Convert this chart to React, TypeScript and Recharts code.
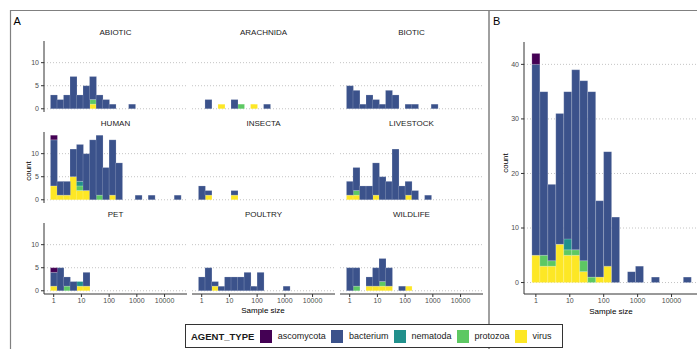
import { BarChart, Bar, XAxis, YAxis, CartesianGrid } from 'recharts';

// agent types, bottom of stack first (ggplot stacks the first level on top)
const STACK_ORDER = ['virus', 'protozoa', 'nematoda', 'bacterium', 'ascomycota'];
const LEGEND_ORDER = ['ascomycota', 'bacterium', 'nematoda', 'protozoa', 'virus'];
const AGENT_COLORS: Record<string, string> = {
  ascomycota: '#440154',
  bacterium: '#3B528B',
  nematoda: '#21908C',
  protozoa: '#5DC863',
  virus: '#FDE725',
};

// histogram bin centres, log10(sample size)
const BIN_CENTERS = [
  0, 0.235, 0.47, 0.705, 0.94, 1.175, 1.41, 1.645, 1.88, 2.115,
  2.35, 2.585, 2.82, 3.055, 3.29, 3.525, 3.76, 3.995, 4.23, 4.465,
];
const X_TICKS = [0, 1, 2, 3, 4];
const X_DOMAIN = [-0.35, 4.81];
const FACET_Y_TICKS = [0, 5, 10];
const FACET_Y_DOMAIN = [-0.7, 14.7];
const TOTAL_Y_TICKS = [0, 10, 20, 30, 40];
const TOTAL_Y_DOMAIN = [-2.1, 44.1];

// counts per bin, panel A facets
const ABIOTIC_BACTERIUM = [3, 2, 3, 7, 3, 5, 5, 3, 2, 1, 0, 0, 1, 0, 0, 0, 0, 0, 0, 0];
const ABIOTIC_PROTOZOA = [0, 0, 0, 0, 0, 0, 1, 0, 0, 0, 0, 0, 0, 0, 0, 0, 0, 0, 0, 0];
const ABIOTIC_VIRUS = [0, 0, 0, 0, 0, 0, 1, 0, 0, 0, 0, 0, 0, 0, 0, 0, 0, 0, 0, 0];

const ARACHNIDA_BACTERIUM = [0, 2, 0, 0, 0, 2, 0, 0, 0, 0, 1, 0, 0, 0, 0, 0, 0, 0, 0, 0];
const ARACHNIDA_PROTOZOA = [0, 0, 0, 0, 0, 0, 1, 0, 0, 0, 0, 0, 0, 0, 0, 0, 0, 0, 0, 0];
const ARACHNIDA_VIRUS = [0, 0, 0, 1, 0, 0, 0, 0, 1, 0, 0, 0, 0, 0, 0, 0, 0, 0, 0, 0];

const BIOTIC_BACTERIUM = [5, 4, 1, 3, 2, 1, 4, 3, 0, 1, 1, 0, 0, 1, 0, 0, 0, 0, 0, 0];

const HUMAN_ASCOMYCOTA = [1, 0, 0, 0, 0, 0, 0, 0, 0, 0, 0, 0, 0, 0, 0, 0, 0, 0, 0, 0];
const HUMAN_BACTERIUM = [10, 3, 3, 6, 8, 8, 13, 13, 7, 12, 8, 0, 0, 1, 0, 1, 0, 0, 0, 1];
const HUMAN_NEMATODA = [0, 0, 0, 0, 1, 0, 0, 0, 0, 0, 0, 0, 0, 0, 0, 0, 0, 0, 0, 0];
const HUMAN_PROTOZOA = [0, 0, 0, 0, 1, 0, 0, 1, 0, 0, 0, 0, 0, 0, 0, 0, 0, 0, 0, 0];
const HUMAN_VIRUS = [3, 1, 1, 5, 2, 2, 0, 0, 0, 1, 0, 0, 0, 0, 0, 0, 0, 0, 0, 0];

const INSECTA_BACTERIUM = [3, 1, 0, 0, 0, 1, 0, 0, 0, 0, 0, 0, 0, 0, 0, 0, 0, 0, 0, 0];
const INSECTA_VIRUS = [0, 1, 0, 0, 0, 1, 0, 0, 0, 0, 0, 0, 0, 0, 0, 0, 0, 0, 0, 0];

const LIVESTOCK_BACTERIUM = [3, 5, 3, 3, 7, 5, 4, 11, 3, 3, 2, 0, 1, 0, 0, 0, 0, 0, 0, 0];
const LIVESTOCK_PROTOZOA = [0, 1, 0, 0, 0, 0, 0, 0, 0, 0, 0, 0, 0, 0, 0, 0, 0, 0, 0, 0];
const LIVESTOCK_VIRUS = [1, 1, 0, 0, 1, 0, 0, 0, 0, 1, 0, 0, 0, 0, 0, 0, 0, 0, 0, 0];

const PET_ASCOMYCOTA = [1, 0, 0, 0, 0, 0, 0, 0, 0, 0, 0, 0, 0, 0, 0, 0, 0, 0, 0, 0];
const PET_BACTERIUM = [3, 5, 2, 2, 0, 3, 0, 0, 0, 0, 0, 0, 0, 0, 0, 0, 0, 0, 0, 0];
const PET_NEMATODA = [0, 0, 0, 0, 1, 0, 0, 0, 0, 0, 0, 0, 0, 0, 0, 0, 0, 0, 0, 0];
const PET_PROTOZOA = [0, 0, 1, 0, 0, 0, 0, 0, 0, 0, 0, 0, 0, 0, 0, 0, 0, 0, 0, 0];
const PET_VIRUS = [1, 0, 0, 0, 1, 1, 0, 0, 0, 0, 0, 0, 0, 0, 0, 0, 0, 0, 0, 0];

const POULTRY_BACTERIUM = [3, 5, 1, 1, 3, 3, 3, 4, 1, 4, 0, 0, 0, 1, 0, 0, 0, 0, 0, 0];
const POULTRY_VIRUS = [0, 0, 1, 0, 0, 0, 0, 0, 0, 0, 0, 0, 0, 0, 0, 0, 0, 0, 0, 0];

const WILDLIFE_BACTERIUM = [5, 4, 0, 2, 4, 5, 4, 0, 1, 0, 0, 0, 0, 0, 0, 0, 0, 0, 0, 0];
const WILDLIFE_PROTOZOA = [0, 1, 0, 0, 0, 1, 0, 0, 0, 0, 0, 0, 0, 0, 0, 0, 0, 0, 0, 0];
const WILDLIFE_VIRUS = [0, 0, 0, 1, 1, 1, 1, 0, 0, 1, 0, 0, 0, 0, 0, 0, 0, 0, 0, 0];

// panel B, all hosts together
const TOTAL_ASCOMYCOTA = [2, 0, 0, 0, 0, 0, 0, 0, 0, 0, 0, 0, 0, 0, 0, 0, 0, 0, 0, 0];
const TOTAL_BACTERIUM = [35, 30, 14, 24, 27, 33, 33, 34, 14, 21, 12, 0, 2, 3, 0, 1, 0, 0, 0, 1];
const TOTAL_NEMATODA = [0, 0, 0, 0, 2, 0, 0, 0, 0, 0, 0, 0, 0, 0, 0, 0, 0, 0, 0, 0];
const TOTAL_PROTOZOA = [0, 2, 1, 0, 1, 1, 2, 1, 0, 0, 0, 0, 0, 0, 0, 0, 0, 0, 0, 0];
const TOTAL_VIRUS = [5, 3, 3, 7, 5, 5, 2, 0, 1, 3, 0, 0, 0, 0, 0, 0, 0, 0, 0, 0];

type Series = Partial<Record<string, number[]>>;

const FACETS: { name: string; series: Series }[] = [
  { name: 'ABIOTIC', series: { bacterium: ABIOTIC_BACTERIUM, protozoa: ABIOTIC_PROTOZOA, virus: ABIOTIC_VIRUS } },
  { name: 'ARACHNIDA', series: { bacterium: ARACHNIDA_BACTERIUM, protozoa: ARACHNIDA_PROTOZOA, virus: ARACHNIDA_VIRUS } },
  { name: 'BIOTIC', series: { bacterium: BIOTIC_BACTERIUM } },
  {
    name: 'HUMAN',
    series: {
      ascomycota: HUMAN_ASCOMYCOTA, bacterium: HUMAN_BACTERIUM, nematoda: HUMAN_NEMATODA,
      protozoa: HUMAN_PROTOZOA, virus: HUMAN_VIRUS,
    },
  },
  { name: 'INSECTA', series: { bacterium: INSECTA_BACTERIUM, virus: INSECTA_VIRUS } },
  { name: 'LIVESTOCK', series: { bacterium: LIVESTOCK_BACTERIUM, protozoa: LIVESTOCK_PROTOZOA, virus: LIVESTOCK_VIRUS } },
  {
    name: 'PET',
    series: {
      ascomycota: PET_ASCOMYCOTA, bacterium: PET_BACTERIUM, nematoda: PET_NEMATODA,
      protozoa: PET_PROTOZOA, virus: PET_VIRUS,
    },
  },
  { name: 'POULTRY', series: { bacterium: POULTRY_BACTERIUM, virus: POULTRY_VIRUS } },
  { name: 'WILDLIFE', series: { bacterium: WILDLIFE_BACTERIUM, protozoa: WILDLIFE_PROTOZOA, virus: WILDLIFE_VIRUS } },
];

const TOTAL_SERIES: Series = {
  ascomycota: TOTAL_ASCOMYCOTA, bacterium: TOTAL_BACTERIUM, nematoda: TOTAL_NEMATODA,
  protozoa: TOTAL_PROTOZOA, virus: TOTAL_VIRUS,
};

function toRows(series: Series) {
  return BIN_CENTERS.map((x, i) => {
    const row: Record<string, number> = { x };
    for (const t of STACK_ORDER) row[t] = series[t]?.[i] ?? 0;
    return row;
  });
}

// layout (px)
const FONT = '"Liberation Sans", Arial, Helvetica, sans-serif';
const COL_LEFT = [44, 192, 340];
const ROW_TOP = [41, 132, 223];
const PLOT_W = 143;
const PLOT_H = 71;
const TEXT_GREY = '#4d4d4d';
const AXIS_COLOR = '#333333';
const GRID_COLOR = '#c4c4c4';

const fmtSize = (v: number) => String(Math.round(Math.pow(10, v)));

function stackBars() {
  return STACK_ORDER.map(t => (
    <Bar
      key={t}
      dataKey={t}
      stackId="agent"
      fill={AGENT_COLORS[t]}
      stroke="rgba(255,255,255,0.35)"
      strokeWidth={0.5}
      isAnimationActive={false}
    />
  ));
}

function Facet({ name, series, idx }: { name: string; series: Series; idx: number }) {
  const col = idx % 3;
  const row = Math.floor(idx / 3);
  const showY = col === 0;
  const showX = row === 2;
  const yW = showY ? 22 : 0;
  const xH = showX ? 14 : 0;
  const data = toRows(series);

  return (
    <div style={{ position: 'absolute', left: COL_LEFT[col] - yW, top: ROW_TOP[row] }}>
      <BarChart
        width={PLOT_W + yW}
        height={PLOT_H + xH}
        data={data}
        margin={{ top: 0, right: 0, bottom: 0, left: 0 }}
        barCategoryGap={0}
        barGap={0}
      >
        <CartesianGrid
          vertical={false}
          horizontalValues={FACET_Y_TICKS}
          stroke={GRID_COLOR}
          strokeDasharray="1 2"
        />
        <XAxis
          type="number"
          dataKey="x"
          domain={X_DOMAIN}
          ticks={X_TICKS}
          interval={0}
          allowDataOverflow
          hide={!showX}
          height={xH}
          tickFormatter={fmtSize}
          tick={{ fontSize: 7, fill: TEXT_GREY }}
          tickSize={3}
          tickMargin={1}
          stroke={AXIS_COLOR}
        />
        <YAxis
          type="number"
          domain={FACET_Y_DOMAIN}
          ticks={FACET_Y_TICKS}
          interval={0}
          allowDataOverflow
          hide={!showY}
          width={yW}
          tick={{ fontSize: 7, fill: TEXT_GREY }}
          tickSize={3}
          tickMargin={2}
          stroke={AXIS_COLOR}
        />
        {stackBars()}
      </BarChart>
      <div
        style={{
          position: 'absolute',
          left: yW,
          width: PLOT_W,
          top: -13,
          textAlign: 'center',
          fontSize: 8,
          color: '#1a1a1a',
          lineHeight: '10px',
        }}
      >
        {name}
      </div>
    </div>
  );
}

function TotalChart() {
  const data = toRows(TOTAL_SERIES);
  return (
    <div style={{ position: 'absolute', left: 524 - 22, top: 42 }}>
      <BarChart
        width={175 + 22}
        height={252 + 14}
        data={data}
        margin={{ top: 0, right: 0, bottom: 0, left: 0 }}
        barCategoryGap={0}
        barGap={0}
      >
        <CartesianGrid
          vertical={false}
          horizontalValues={TOTAL_Y_TICKS}
          stroke={GRID_COLOR}
          strokeDasharray="1 2"
        />
        <XAxis
          type="number"
          dataKey="x"
          domain={X_DOMAIN}
          ticks={X_TICKS}
          interval={0}
          allowDataOverflow
          height={14}
          tickFormatter={fmtSize}
          tick={{ fontSize: 7, fill: TEXT_GREY }}
          tickSize={3}
          tickMargin={1}
          stroke={AXIS_COLOR}
        />
        <YAxis
          type="number"
          domain={TOTAL_Y_DOMAIN}
          ticks={TOTAL_Y_TICKS}
          interval={0}
          allowDataOverflow
          width={22}
          tick={{ fontSize: 7, fill: TEXT_GREY }}
          tickSize={3}
          tickMargin={2}
          stroke={AXIS_COLOR}
        />
        {stackBars()}
      </BarChart>
    </div>
  );
}

function Legend() {
  return (
    <div
      style={{
        position: 'absolute',
        left: 185,
        top: 324,
        width: 371,
        height: 22,
        border: '1px solid #333',
        background: '#fff',
        display: 'flex',
        alignItems: 'center',
        paddingLeft: 5,
        boxSizing: 'content-box',
        fontSize: 9,
        color: '#1a1a1a',
      }}
    >
      <span style={{ fontWeight: 'bold', fontSize: 9.5, marginRight: 6 }}>AGENT_TYPE</span>
      {LEGEND_ORDER.map(t => (
        <span key={t} style={{ display: 'flex', alignItems: 'center', marginRight: 5.5 }}>
          <span style={{ width: 12, height: 13, background: AGENT_COLORS[t], marginRight: 5.5 }} />
          <span>{t}</span>
        </span>
      ))}
    </div>
  );
}

export default function App() {
  return (
    <div
      style={{
        position: 'absolute',
        left: 0,
        top: 0,
        width: 697,
        height: 349,
        overflow: 'hidden',
        background: '#fff',
        fontFamily: FONT,
      }}
    >
      <svg width={697} height={349} style={{ position: 'absolute', left: 0, top: 0 }}>
        <line x1={10} y1={10.5} x2={697} y2={10.5} stroke="#808080" strokeWidth={1.2} />
        <line x1={10.5} y1={10} x2={10.5} y2={349} stroke="#808080" strokeWidth={1.2} />
        <line x1={489} y1={10} x2={489} y2={349} stroke="#808080" strokeWidth={1.5} />
        <text x={13.5} y={25} fontSize={11} fill="#000">A</text>
        <text x={493} y={25} fontSize={11} fill="#000">B</text>
        <text x={263} y={313} fontSize={8} textAnchor="middle" fill="#000">Sample size</text>
        <text x={611} y={313.5} fontSize={8} textAnchor="middle" fill="#000">Sample size</text>
        <text transform="translate(31,171) rotate(-90)" fontSize={8} textAnchor="middle" fill="#000">count</text>
        <text transform="translate(508,163) rotate(-90)" fontSize={8} textAnchor="middle" fill="#000">count</text>
      </svg>
      {FACETS.map((f, i) => (
        <Facet key={f.name} name={f.name} series={f.series} idx={i} />
      ))}
      <TotalChart />
      <Legend />
    </div>
  );
}
